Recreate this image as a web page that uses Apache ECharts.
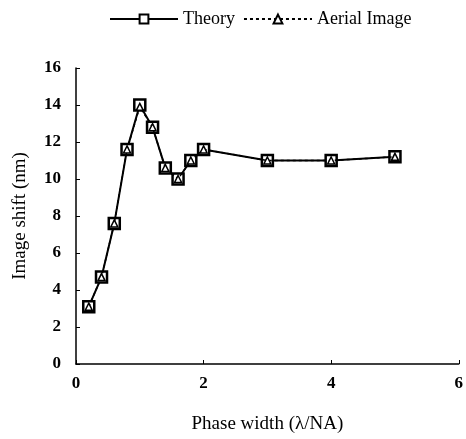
<!DOCTYPE html>
<html>
<head>
<meta charset="utf-8">
<script src="https://cdn.jsdelivr.net/npm/echarts@6/dist/echarts.min.js"></script>
<style>
  html, body { margin: 0; padding: 0; background: #fff; }
  #chart { width: 466px; height: 439px; }
</style>
</head>
<body>
<div id="chart"></div>
<script>
// phase width (lambda/NA)
const phaseWidth = [0.2, 0.4, 0.6, 0.8, 1.0, 1.2, 1.4, 1.6, 1.8, 2.0, 3.0, 4.0, 5.0]
// image shift (nm)
const theory = [3.1, 4.7, 7.6, 11.6, 14.0, 12.8, 10.6, 10.0, 11.0, 11.6, 11.0, 11.0, 11.2]
const aerial = [3.1, 4.7, 7.6, 11.6, 13.9, 12.8, 10.6, 10.0, 11.0, 11.6, 11.0, 11.0, 11.2]
const xTicks = [0, 2, 4, 6]
const yTicks = [0, 2, 4, 6, 8, 10, 12, 14, 16]

const font = 'Liberation Serif'

let chart = echarts.init(document.getElementById('chart'))
chart.setOption({
  animation: false,
  textStyle: { fontFamily: font, color: '#000' },
  legend: {
    top: 5,
    left: 104,
    itemWidth: 68,
    itemHeight: 11,
    itemGap: 8,
    textStyle: { fontFamily: font, fontSize: 18, color: '#000' },
    data: ['Theory', 'Aerial Image'],
  },
  grid: {
    left: 76,
    right: 4,
    top: 68,
    bottom: 75,
  },
  xAxis: {
    type: 'value',
    min: xTicks[0],
    max: xTicks[xTicks.length - 1],
    interval: 2,
    name: 'Phase width (λ/NA)',
    nameLocation: 'middle',
    nameGap: 51,
    nameTextStyle: { fontFamily: font, fontSize: 19, color: '#000' },
    axisLine: { lineStyle: { color: '#000', width: 1.5 } },
    axisTick: { inside: true, length: 4, lineStyle: { color: '#000' } },
    axisLabel: { margin: 11, fontFamily: font, fontSize: 17, fontWeight: 'bold', color: '#000' },
    splitLine: { show: false },
  },
  yAxis: {
    type: 'value',
    min: yTicks[0],
    max: yTicks[yTicks.length - 1],
    interval: 2,
    name: 'Image shift (nm)',
    nameLocation: 'middle',
    nameGap: 46,
    nameTextStyle: { fontFamily: font, fontSize: 19, color: '#000' },
    axisLine: { show: true, lineStyle: { color: '#000', width: 1.5 } },
    axisTick: { show: true, inside: true, length: 4, lineStyle: { color: '#000' } },
    axisLabel: { margin: 15, fontFamily: font, fontSize: 17, fontWeight: 'bold', color: '#000' },
    splitLine: { show: false },
  },
  series: [
    {
      name: 'Theory',
      type: 'line',
      data: phaseWidth.map((x, i) => [x, theory[i]]),
      symbol: 'rect',
      symbolSize: 11,
      showAllSymbol: true,
      lineStyle: { color: '#000', width: 2 },
      itemStyle: { color: '#fff', borderColor: '#000', borderWidth: 2.5 },
      z: 2,
    },
    {
      name: 'Aerial Image',
      type: 'line',
      data: phaseWidth.map((x, i) => [x, aerial[i]]),
      symbol: 'triangle',
      symbolSize: 7,
      showAllSymbol: true,
      lineStyle: { color: '#000', width: 1.5, type: [3, 3] },
      itemStyle: { color: '#fff', borderColor: '#000', borderWidth: 1.5 },
      z: 3,
    },
  ],
})
</script>
</body>
</html>
